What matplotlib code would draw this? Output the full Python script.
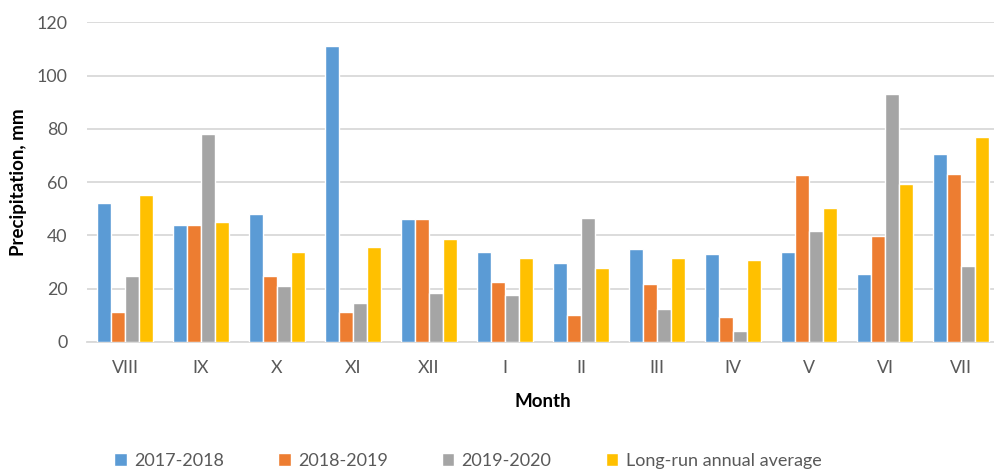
import numpy as np
import matplotlib
matplotlib.use("Agg")
import matplotlib.pyplot as plt

plt.rcParams['font.family'] = ['Lato', 'DejaVu Sans']

months = ['VIII', 'IX', 'X', 'XI', 'XII', 'I', 'II', 'III', 'IV', 'V', 'VI', 'VII']
p_2017_2018 = [52.1, 44.0, 48.0, 111.2, 46.0, 33.9, 29.5, 34.8, 33.0, 33.8, 25.5, 70.4]
p_2018_2019 = [11.4, 44.0, 24.6, 11.3, 46.0, 22.4, 10.0, 21.6, 9.5, 62.6, 39.6, 63.0]
p_2019_2020 = [24.6, 78.2, 21.2, 14.5, 18.3, 17.8, 46.7, 12.3, 4.0, 41.6, 92.9, 28.5]
p_average = [55.2, 45.0, 33.9, 35.5, 38.6, 31.4, 27.6, 31.5, 30.9, 50.4, 59.3, 77.1]

series = [('2017-2018', p_2017_2018, '#5B9BD5'),
          ('2018-2019', p_2018_2019, '#ED7D31'),
          ('2019-2020', p_2019_2020, '#A5A5A5'),
          ('Long-run annual average', p_average, '#FFC000')]

fig = plt.figure(figsize=(9.95, 4.71), dpi=100)
ax = fig.add_axes([87/995, 129/471, 912/995, 319.7/471])

x = np.arange(len(months))
w = 0.184
for i, (name, vals, col) in enumerate(series):
    ax.bar(x + (i - 1.5) * w, vals, width=w, color=col, edgecolor='white',
           linewidth=1, label=name, zorder=3)

ax.set_xlim(-0.5, len(months) - 0.5)
ax.set_ylim(0, 120)
ax.set_yticks(range(0, 121, 20))
ax.set_xticks(x)
ax.set_xticklabels(months)
ax.grid(axis='y', color='#D9D9D9', linewidth=1.3, zorder=0)
for s in ['top', 'right', 'left']:
    ax.spines[s].set_visible(False)
ax.spines['bottom'].set_color('#D9D9D9')
ax.spines['bottom'].set_linewidth(1.3)
ax.tick_params(length=0, labelsize=12.8, labelcolor='#595959')
ax.tick_params(axis='x', pad=13)
ax.tick_params(axis='y', pad=14)

ax.set_ylabel('Precipitation, mm', fontsize=13.5, fontweight='bold', labelpad=7)
ax.set_xlabel('Month', fontsize=13.5, fontweight='bold', labelpad=12)

leg = fig.legend(loc='center', bbox_to_anchor=(0.47, 0.022), ncol=4, frameon=False,
                 fontsize=13, handlelength=0.7, handleheight=0.7,
                 handletextpad=0.4, columnspacing=3.0)
for t in leg.get_texts():
    t.set_color('#595959')

fig.savefig('out.png', dpi=100)
